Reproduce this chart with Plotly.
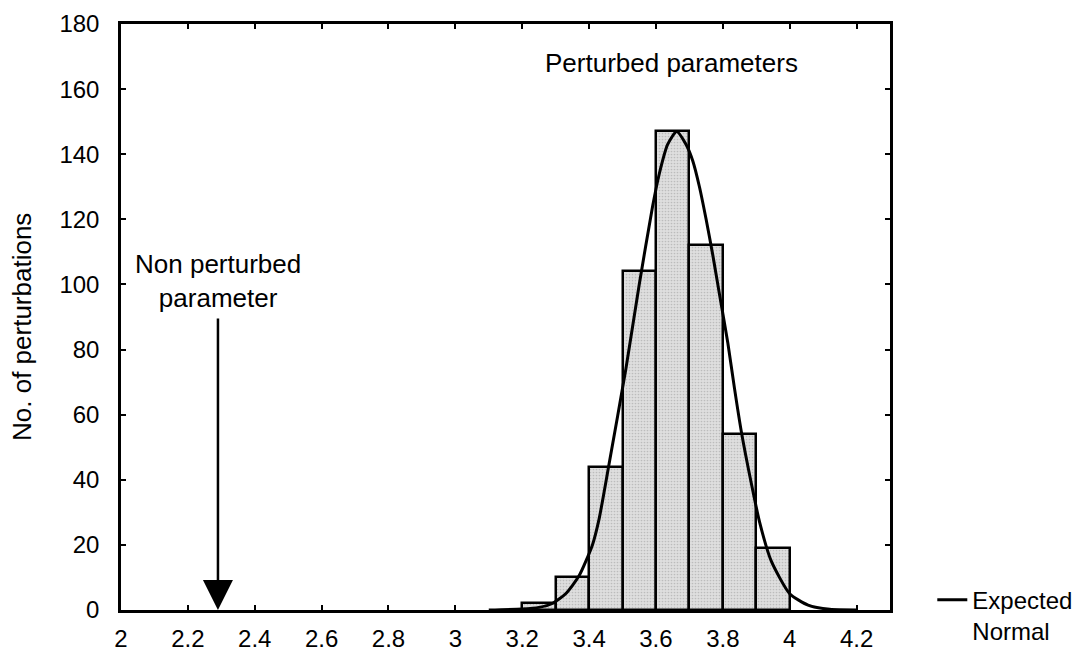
import plotly.graph_objects as go

# Histogram of perturbed parameter values (bin width 0.1)
bin_left = [3.2, 3.3, 3.4, 3.5, 3.6, 3.7, 3.8, 3.9]
counts = [2, 10, 44, 104, 147, 112, 54, 19]
bin_width = 0.1

# Expected normal curve, sampled along x
curve_x = [3.10, 3.20, 3.25, 3.29, 3.33, 3.37, 3.41, 3.43, 3.46, 3.51, 3.55,
           3.59, 3.61, 3.635, 3.662, 3.69, 3.71, 3.73, 3.75, 3.77, 3.79, 3.815,
           3.835, 3.855, 3.885, 3.91, 3.945, 4.00, 4.055, 4.12, 4.20]
curve_y = [0, 0.3, 0.8, 2, 5, 10.5, 20, 28, 45, 74, 100,
           124, 134, 143, 147, 143, 138, 130, 120, 109, 97, 82,
           68, 55, 39, 27, 15, 5, 1.5, 0.2, 0]

# Unperturbed parameter value
base_value = 2.29

x_ticks = [2, 2.2, 2.4, 2.6, 2.8, 3, 3.2, 3.4, 3.6, 3.8, 4, 4.2]
y_ticks = [0, 20, 40, 60, 80, 100, 120, 140, 160, 180]

FONT = "Liberation Sans, Arial, sans-serif"

fig = go.Figure()

fig.add_trace(go.Bar(
    x=[b + bin_width / 2 for b in bin_left],
    y=counts,
    width=bin_width,
    marker=dict(
        color="#d9d9d9",
        line=dict(color="black", width=2.5),
        pattern=dict(shape=".", fgcolor="#9a9a9a", bgcolor="#dedede",
                     size=3, solidity=0.25),
    ),
    showlegend=False,
))

fig.add_trace(go.Scatter(
    x=curve_x, y=curve_y,
    mode="lines",
    line=dict(color="black", width=3, shape="spline", smoothing=0.6),
    name="Expected<br>Normal",
    showlegend=True,
))

fig.add_annotation(
    x=3.647, y=168, xref="x", yref="y",
    text="Perturbed parameters", showarrow=False,
    font=dict(family=FONT, size=26, color="black"),
)

fig.add_annotation(
    x=base_value, y=101, xref="x", yref="y",
    text="Non perturbed<br>parameter", showarrow=False,
    font=dict(family=FONT, size=26, color="black"),
)

fig.add_annotation(
    x=base_value, y=0, ax=base_value, ay=90,
    xref="x", yref="y", axref="x", ayref="y",
    text="", showarrow=True,
    arrowhead=2, arrowsize=2.4, arrowwidth=2.5, arrowcolor="black",
)

fig.add_annotation(
    x=0, y=0.5, xref="paper", yref="paper",
    xanchor="center", yanchor="middle", xshift=-99, yshift=-10,
    text="No. of perturbations", textangle=-90, showarrow=False,
    font=dict(family=FONT, size=26, color="black"),
)

fig.update_layout(
    width=1089, height=656,
    margin=dict(l=121, r=199, t=24, b=46, autoexpand=False),
    paper_bgcolor="white", plot_bgcolor="white",
    font=dict(family=FONT, size=24, color="black"),
    bargap=0,
    legend=dict(
        x=1.055, y=0.055, xanchor="left", yanchor="top",
        bgcolor="rgba(0,0,0,0)", valign="top",
        font=dict(family=FONT, size=24, color="black"),
        itemwidth=30, tracegroupgap=0,
    ),
    xaxis=dict(
        range=[2, 4.3], tickmode="array", tickvals=x_ticks,
        ticktext=[f"{t:g}" for t in x_ticks],
        showgrid=False, zeroline=False,
        showline=True, linecolor="black", linewidth=2.5, mirror="ticks",
        ticks="inside", ticklen=5, tickwidth=1.5, tickcolor="black",
        ticklabelstandoff=5,
    ),
    yaxis=dict(
        range=[0, 180], tickmode="array", tickvals=y_ticks,
        showgrid=False, zeroline=False,
        showline=True, linecolor="black", linewidth=2.5, mirror="ticks",
        ticks="inside", ticklen=5, tickwidth=1.5, tickcolor="black",
        ticklabelstandoff=14,
    ),
)

fig.write_html("out.html")
